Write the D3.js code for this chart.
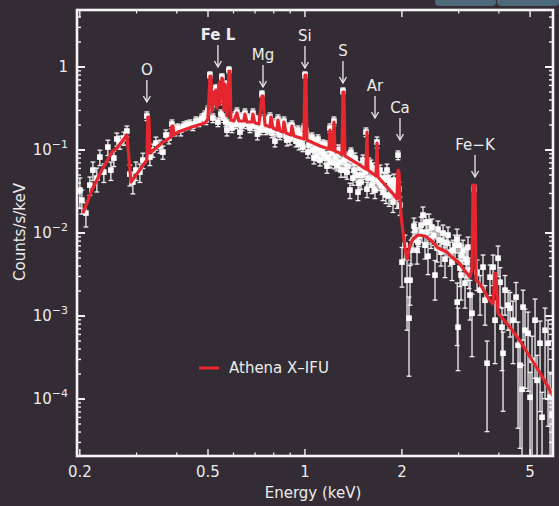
<!DOCTYPE html>
<html><head><meta charset="utf-8">
<script src="https://cdn.jsdelivr.net/npm/d3@7"></script>
<style>body{margin:0;background:#342c35;}svg{display:block;}</style>
</head><body>
<svg id="c" width="559" height="506"></svg>
<script>
// ---------------- data ----------------
const xDomain = [0.196, 5.89];          // keV
const yDomain = [2.06e-5, 4.86];        // counts/s/keV
const xTickValues = [0.2, 0.5, 1, 2, 5];
const xTickLabels = ["0.2", "0.5", "1", "2", "5"];
const yTickValues = [1, 0.1, 0.01, 0.001, 0.0001];
const yTickBase = ["1", "10", "10", "10", "10"];
const yTickExp = ["", "−1", "−2", "−3", "−4"];

// model (Athena X-IFU) curve
const modelEnergy = [
 0.2045,0.2181,0.2342,0.2516,0.2607,0.2801,0.2883,0.3230,0.3253,0.3277,0.3301,0.3596,0.3836,0.3864,0.3892,0.3920,0.4034,0.4457,0.4892,
 0.4997,0.5070,0.5106,0.5143,0.5217,0.5254,0.5292,0.5330,0.5406,0.5445,0.5524,0.5563,0.5603,0.5644,0.5725,0.5808,0.5849,0.5891,0.6018,
 0.6148,0.6237,0.6464,0.6510,0.6604,0.6844,0.6893,0.6992,0.7197,0.7355,0.7408,0.7515,0.7788,0.7844,0.7957,0.8186,0.8245,0.8364,0.8545,0.8606,0.8730,0.9049,0.9113,0.9243,0.9929,1.0000,1.0072,1.0144,
 1.1131,1.1871,1.1957,1.2043,1.2218,1.2306,1.2394,1.3027,1.3122,1.3216,1.3311,1.4300,1.5471,1.5582,1.5694,1.6615,1.6734,1.6854,1.8103,1.9033,1.9307,1.9446,1.9585,1.9868,
 2.0155,2.0447,2.0742,2.1191,2.1650,2.2442,2.3590,2.4793,2.5882,2.7606,2.8610,3.0298,3.1403,3.2546,3.3017,3.3255,3.3729,3.3972,3.4953,3.7548,3.8357,3.8912,3.9191,3.9755,4.1199,4.3313,4.6528,4.9980,5.3691,5.6443,5.8915];
const modelCounts = [
 0.0174,0.0330,0.0574,0.0946,0.1057,0.1517,0.0411,0.0758,0.2499,0.2499,0.0920,0.1214,0.1434,0.1946,0.1946,0.1517,0.1647,0.1893,0.2115,
 0.2363,0.779,0.779,0.2870,0.500,0.3583,0.5285,0.3206,0.6417,0.3583,0.7373,0.6971,0.3033,0.6239,0.2570,0.8951,0.8951,0.2298,0.2236,
 0.2790,0.2236,0.2236,0.2714,0.2174,0.2174,0.2714,0.2115,0.2057,0.4475,0.4475,0.2001,0.1893,0.2499,0.1841,0.1741,0.2298,0.1694,0.1647,0.2174,0.1602,0.1517,0.1946,0.1475,0.1358,0.8009,0.8009,0.1320,
 0.1117,0.1028,0.1741,0.1028,0.100,0.2174,0.0973,0.0895,0.500,0.500,0.0847,0.0717,0.0590,0.1647,0.0574,0.0486,0.1214,0.0473,0.0348,0.0279,0.0257,0.0574,0.0543,0.0165,
 0.01028,0.00659,0.00486,0.00717,0.00847,0.00946,0.00920,0.00801,0.00659,0.00590,0.00514,0.00423,0.00348,0.00295,0.00379,0.0379,0.0379,0.00271,0.00243,0.00152,0.00140,0.00330,0.00312,0.00109,0.000920,0.000736,0.000500,0.000321,0.000206,0.000147,0.000109];

// observed spectrum, by band: energy, counts, relative error
const softE = [0.2001,0.2030,0.2089,0.2149,0.2196,0.2259,0.2308,0.2375,0.2444,0.2497,0.2551,0.2606,0.2663,0.2740,0.2800,0.2860,0.2922,0.2986,0.3072,0.3139,0.3230,0.3300,0.3372,0.3445,0.3545,0.3622,0.3701,0.3781,0.3863,0.3947,0.4033,0.4119,0.4209,0.4300,0.4393,0.4488,0.4586,0.4686,0.4787,0.4891];
const softC = [0.0329,0.0249,0.0174,0.0378,0.0573,0.0459,0.0822,0.0542,0.1085,0.0573,0.0800,0.1356,0.1246,0.1394,0.1692,0.0513,0.0411,0.0573,0.0542,0.0756,0.2567,0.0822,0.0998,0.1212,0.1116,0.0944,0.1514,0.1394,0.2054,0.1739,0.1839,0.1739,0.1944,0.1998,0.2054,0.1944,0.2232,0.2172,0.2429,0.2639];
const softErr = [0.40,0.32,0.32,0.25,0.25,0.32,0.21,0.25,0.21,0.25,0.21,0.18,0.18,0.18,0.15,0.28,0.28,0.25,0.25,0.21,0.12,0.21,0.18,0.18,0.18,0.18,0.15,0.15,0.12,0.15,0.12,0.15,0.12,0.12,0.12,0.12,0.12,0.12,0.12,0.12];

const feLE = [0.4997,0.5069,0.5142,0.5216,0.5292,0.5368,0.5445,0.5523,0.5603,0.5643,0.5725,0.5808,0.5891,0.5976,0.6062,0.6150,0.6239,0.6283,0.6328,0.6419,0.6512,0.6606,0.6701,0.6798,0.6895,0.6995,0.7096,0.7120,0.7198,0.7353,0.7459,0.7567,0.7677,0.7786,0.7898,0.8012,0.8069,0.8128,0.8245,0.8363,0.8483,0.8606,0.8730,0.8856,0.8983,0.9112,0.9243,0.9377,0.9513,0.9649,0.9788];
const feLC = [0.3030,0.8013,0.3483,0.4996,0.5586,0.2172,0.4000,0.7582,0.2429,0.6240,0.1739,0.9202,0.2054,0.2429,0.2567,0.2867,0.2172,0.1645,0.2497,0.2295,0.2789,0.2054,0.2429,0.2172,0.2789,0.1944,0.2295,0.1557,0.1891,0.4727,0.2362,0.1739,0.2054,0.2497,0.1601,0.1944,0.1281,0.1739,0.2362,0.1514,0.1839,0.2232,0.1473,0.1692,0.1356,0.1998,0.1557,0.1281,0.1739,0.1394,0.1212];
const feLErr = [0.12,0.09,0.12,0.09,0.09,0.12,0.12,0.09,0.12,0.09,0.15,0.09,0.12,0.12,0.12,0.12,0.12,0.15,0.12,0.12,0.12,0.12,0.12,0.12,0.12,0.12,0.12,0.15,0.12,0.09,0.12,0.12,0.12,0.12,0.12,0.12,0.15,0.12,0.12,0.12,0.12,0.12,0.12,0.12,0.15,0.12,0.12,0.15,0.12,0.15,0.15];

const feLBandE = [0.4926,0.5179,0.5484,0.5684,0.5933,0.6106,0.6373,0.6559,0.6749,0.6945,0.7147,0.7301,0.7406,0.7622,0.7732,0.7955,0.8186,0.8305,0.8423,0.8667,0.8793,0.8920,0.9048,0.9178,0.9310,0.9445,0.9581,0.9718];
const feLBandC = [0.2295,0.2429,0.2712,0.2172,0.1839,0.2054,0.1944,0.2362,0.1839,0.2429,0.2172,0.1739,0.2054,0.2232,0.1789,0.2112,0.1891,0.1692,0.2054,0.1839,0.1317,0.1891,0.1645,0.1789,0.1473,0.1601,0.1179,0.1514];
const feLBandErr = [0.12,0.12,0.12,0.12,0.12,0.12,0.12,0.12,0.12,0.12,0.12,0.12,0.12,0.12,0.12,0.12,0.12,0.12,0.12,0.12,0.15,0.12,0.12,0.12,0.12,0.12,0.15,0.12];

const midE = [0.9929,1.0000,1.0072,1.0144,1.0292,1.0439,1.0589,1.0741,1.0897,1.0975,1.1054,1.1212,1.1373,1.1537,1.1621,1.1704,1.1873,1.1957,1.2129,1.2304,1.2392,1.2482,1.2662,1.2844,1.3029,1.3123,1.3311,1.3408,1.3602,1.3796,1.3895,1.3995,1.4196,1.4402,1.4610,1.4714,1.4819,1.5032,1.5141,1.5249,1.5470,1.5693,1.5918,1.6033,1.6147,1.6380,1.6736,1.6978,1.7098,1.7221,1.7469,1.7720,1.7977,1.8107,1.8237,1.8498,1.8765,1.9035,1.9172,1.9450,1.9727];
const midC = [0.1839,0.8013,0.1692,0.1473,0.1147,0.1317,0.1000,0.1246,0.0869,0.1356,0.1116,0.0944,0.1179,0.0800,0.1147,0.0640,0.1085,0.1839,0.0919,0.2232,0.0696,0.0822,0.1000,0.0715,0.1027,0.5136,0.0573,0.0800,0.0640,0.0329,0.0944,0.0756,0.0573,0.0696,0.0311,0.0399,0.0606,0.0499,0.0756,0.0640,0.1645,0.0459,0.0573,0.0658,0.0378,0.0513,0.1246,0.0411,0.0573,0.0447,0.0311,0.0434,0.0573,0.0459,0.0279,0.0368,0.0236,0.0329,0.0378,0.0869,0.0217];
const midErr = [0.12,0.09,0.12,0.12,0.15,0.12,0.15,0.12,0.15,0.12,0.12,0.15,0.12,0.15,0.12,0.18,0.12,0.12,0.15,0.12,0.15,0.15,0.15,0.15,0.12,0.09,0.18,0.15,0.15,0.21,0.12,0.15,0.18,0.15,0.21,0.18,0.18,0.18,0.15,0.18,0.12,0.18,0.18,0.15,0.21,0.18,0.15,0.21,0.15,0.18,0.21,0.21,0.18,0.18,0.25,0.21,0.25,0.21,0.18,0.12,0.25];

const midBandE = [0.9858,1.0218,1.0513,1.0665,1.0819,1.1132,1.1292,1.1455,1.1789,1.2043,1.2216,1.2572,1.2753,1.2937,1.3216,1.3504,1.3700,1.4095,1.4298,1.4505,1.4926,1.5358,1.5581,1.5806,1.6263,1.6497,1.6617,1.6857,1.7344,1.7594,1.7849,1.8366,1.8631,1.8899,1.9310,1.9589];
const midBandC = [0.1085,0.0944,0.1433,0.0800,0.1027,0.0756,0.1028,0.0893,0.0822,0.0715,0.1085,0.0658,0.0944,0.0573,0.0756,0.0542,0.0845,0.0459,0.0800,0.0499,0.0411,0.0542,0.0338,0.0696,0.0434,0.0329,0.0606,0.0447,0.0368,0.0459,0.0287,0.0411,0.0311,0.0434,0.0264,0.0338];
const midBandErr = [0.12,0.15,0.12,0.15,0.12,0.15,0.12,0.15,0.15,0.15,0.12,0.15,0.12,0.18,0.15,0.18,0.12,0.18,0.15,0.18,0.18,0.18,0.21,0.15,0.18,0.21,0.15,0.18,0.21,0.18,0.21,0.21,0.21,0.18,0.25,0.21];

const hardE = [2.0011,2.0445,2.0741,2.1041,2.1190,2.1650,2.1961,2.2279,2.2601,2.2925,2.3255,2.3589,2.3931,2.4277,2.4624,2.4800,2.5338,2.5705,2.6261,2.6831,2.7217,2.7611,2.8208,2.8614,2.9235,2.9658,2.9700,2.9872,3.0299,3.0735,3.0956,3.1402,3.1856,3.2087,3.2545,3.3014,3.3489];
const hardC = [0.00446,0.00714,0.00270,0.000942,0.00270,0.00820,0.01083,0.00621,0.00917,0.01245,0.01646,0.00714,0.01025,0.01353,0.00868,0.01178,0.00311,0.00657,0.00820,0.00997,0.00484,0.00755,0.00588,0.00446,0.00714,0.00844,0.00147,0.000733,0.00378,0.00541,0.00621,0.00249,0.00446,0.00676,0.00179,0.00108,0.0338];
const hardErr = [0.5,0.32,0.75,0.8,0.5,0.25,0.25,0.32,0.25,0.25,0.25,0.32,0.25,0.25,0.25,0.25,0.5,0.32,0.25,0.25,0.4,0.32,0.32,0.4,0.32,0.32,0.7,0.7,0.4,0.32,0.32,0.5,0.4,0.32,0.5,0.7,0.12];

const edgeE = [2.1343,2.1805,2.2440,2.3089,2.3760,2.4104,2.5157,2.5890,2.6450,2.7023,2.7810,2.8820,3.0087,3.0517,3.1629,3.2317];
const edgeC = [0.00621,0.01211,0.00776,0.01025,0.01353,0.00526,0.00943,0.01115,0.00588,0.00776,0.00943,0.00621,0.00714,0.00311,0.00484,0.00357];
const edgeErr = [0.32,0.25,0.25,0.25,0.25,0.4,0.25,0.25,0.32,0.25,0.25,0.32,0.32,0.5,0.4,0.4];

const feKE = [3.4218,3.4958,3.5716,3.6231,3.6755,3.7549,3.8364,3.8916,3.9764,4.0333,4.0914,4.1208,4.1801,4.2713,4.3323,4.4263,4.5225,4.5879,4.6535,4.7205,4.7546,4.8229,4.9280,4.9985,5.0705,5.1804,5.2554,5.3691,5.4464,5.5645,5.6859,5.7671,5.8501];
const feKC = [0.00338,0.00205,0.00388,0.00155,0.000270,0.00294,0.00388,0.000890,0.00498,0.00255,0.000733,0.000356,0.00205,0.00135,0.00124,0.000890,0.00169,0.000445,0.000255,0.000131,0.00128,0.000674,0.000620,0.000105,0.000293,0.000890,0.000168,0.000470,0.0000603,0.000674,0.000470,0.000105,0.0000655];
const feKErr = [0.4,0.5,0.4,0.5,0.85,0.4,0.4,0.7,0.4,0.5,0.7,0.8,0.5,0.5,0.55,0.7,0.5,0.9,0.9,0.95,0.6,0.8,0.8,1.0,0.95,0.8,1.0,0.85,1.0,0.85,0.9,1.0,1.0];

// line identifications
const lineNames = ["O", "Fe L", "Mg", "Si", "S", "Ar", "Ca", "Fe−K"];
const lineEnergy = [0.3230, 0.5368, 0.7408, 1.0, 1.3122, 1.650, 1.9727, 3.3729];
const lineTipCounts = [0.3787, 1.0, 0.5743, 0.9726, 0.6414, 0.2429, 0.1320, 0.0473];
const legendLabel = "Athena X–IFU";

// ---------------- drawing ----------------
const svg = d3.select("#c");
const P = {l:77, r:553, t:10, b:456};
const FG = "#ececec", RED = "#e5262e", BG = "#342c35";
const FONT = "DejaVu Sans, sans-serif";

svg.append("rect").attr("width",559).attr("height",506).attr("fill",BG);
// top-right window decoration
svg.append("rect").attr("x",435).attr("y",-6).attr("width",61).attr("height",12).attr("rx",4).attr("fill","#4b6978");
svg.append("rect").attr("x",497).attr("y",-6).attr("width",62).attr("height",12).attr("rx",4).attr("fill","#4b6978");

const x = d3.scaleLog().domain(xDomain).range([P.l, P.r]);
const y = d3.scaleLog().domain(yDomain).range([P.b, P.t]);

svg.append("clipPath").attr("id","clip").append("rect")
  .attr("x",P.l).attr("y",P.t).attr("width",P.r-P.l).attr("height",P.b-P.t);

// data points
const pts = [];
[[softE,softC,softErr],[feLE,feLC,feLErr],[feLBandE,feLBandC,feLBandErr],[midE,midC,midErr],
 [midBandE,midBandC,midBandErr],[hardE,hardC,hardErr],[edgeE,edgeC,edgeErr],[feKE,feKC,feKErr]]
  .forEach(([E,C,R]) => E.forEach((e,i) => pts.push({e, c:C[i], r:R[i]})));

const gd = svg.append("g").attr("clip-path","url(#clip)");
const EB = "#f2f2f2";
pts.forEach(p => {
  const px = x(p.e);
  const hi = p.c*(1+p.r);
  const loV = p.c*(1-p.r);
  const yHi = y(hi);
  const yLo = loV > yDomain[0] ? y(loV) : P.b + 2;
  gd.append("line").attr("x1",px).attr("x2",px).attr("y1",yHi).attr("y2",yLo)
    .attr("stroke",EB).attr("stroke-width",1.3);
  gd.append("line").attr("x1",px-2.4).attr("x2",px+2.4).attr("y1",yHi).attr("y2",yHi)
    .attr("stroke",EB).attr("stroke-width",1.3);
  if (loV > yDomain[0]) gd.append("line").attr("x1",px-2.4).attr("x2",px+2.4).attr("y1",yLo).attr("y2",yLo)
    .attr("stroke",EB).attr("stroke-width",1.3);
  gd.append("rect").attr("x",px-2.8).attr("y",y(p.c)-2.8).attr("width",5.6).attr("height",5.6).attr("fill","#ffffff");
});

// model line
const model = modelEnergy.map((e,i)=>[e, modelCounts[i]]);
svg.append("path").attr("clip-path","url(#clip)")
  .datum(model)
  .attr("d", d3.line().x(d=>x(d[0])).y(d=>y(d[1])))
  .attr("fill","none").attr("stroke",RED).attr("stroke-width",3.2).attr("stroke-linejoin","round");

// frame
svg.append("rect").attr("x",P.l).attr("y",P.t).attr("width",P.r-P.l).attr("height",P.b-P.t)
  .attr("fill","none").attr("stroke","#f4f4f4").attr("stroke-width",2.6);

// ticks
const tg = svg.append("g").attr("stroke","#f4f4f4");
const xMinor = [];
[0.1,1].forEach(d=>{for(let k=2;k<=9;k++){const v=d*k; if(v>xDomain[0]&&v<xDomain[1]&&!xTickValues.includes(+v.toFixed(3))) xMinor.push(v);}});
xTickValues.forEach(v=>{const px=x(v);
  tg.append("line").attr("x1",px).attr("x2",px).attr("y1",P.b).attr("y2",P.b-7).attr("stroke-width",1.4);
  tg.append("line").attr("x1",px).attr("x2",px).attr("y1",P.t).attr("y2",P.t+7).attr("stroke-width",1.4);});
xMinor.forEach(v=>{const px=x(v);
  tg.append("line").attr("x1",px).attr("x2",px).attr("y1",P.b).attr("y2",P.b-3.5).attr("stroke-width",1.2);
  tg.append("line").attr("x1",px).attr("x2",px).attr("y1",P.t).attr("y2",P.t+3.5).attr("stroke-width",1.2);});
const yMinor = [];
[1e-5,1e-4,1e-3,1e-2,1e-1,1].forEach(d=>{for(let k=2;k<=9;k++){const v=d*k; if(v>yDomain[0]&&v<yDomain[1]) yMinor.push(v);}});
yTickValues.forEach(v=>{const py=y(v);
  tg.append("line").attr("x1",P.l).attr("x2",P.l+8).attr("y1",py).attr("y2",py).attr("stroke-width",2);
  tg.append("line").attr("x1",P.r).attr("x2",P.r-8).attr("y1",py).attr("y2",py).attr("stroke-width",2);});
yMinor.forEach(v=>{const py=y(v);
  tg.append("line").attr("x1",P.l).attr("x2",P.l+4).attr("y1",py).attr("y2",py).attr("stroke-width",1.4);
  tg.append("line").attr("x1",P.r).attr("x2",P.r-4).attr("y1",py).attr("y2",py).attr("stroke-width",1.4);});

// tick labels
xTickValues.forEach((v,i)=>{
  svg.append("text").attr("x",x(v)).attr("y",477).attr("text-anchor","middle")
    .attr("font-family",FONT).attr("font-size",15).attr("fill",FG).text(xTickLabels[i]);});
yTickValues.forEach((v,i)=>{
  const t = svg.append("text").attr("x",68).attr("y",y(v)+5).attr("text-anchor","end")
    .attr("font-family",FONT).attr("font-size",15).attr("fill",FG);
  t.append("tspan").text(yTickBase[i]);
  if (yTickExp[i]) t.append("tspan").attr("dy",-7).attr("font-size",11).text(yTickExp[i]);
});

// axis titles
svg.append("text").attr("x",313).attr("y",498).attr("text-anchor","middle")
  .attr("font-family",FONT).attr("font-size",15).attr("fill",FG).text("Energy (keV)");
svg.append("text").attr("transform","translate(25,232) rotate(-90)").attr("text-anchor","middle")
  .attr("font-family",FONT).attr("font-size",15).attr("fill",FG).text("Counts/s/keV");

// line labels & arrows
lineNames.forEach((n,i)=>{
  const px = x(lineEnergy[i]), tip = y(lineTipCounts[i]);
  svg.append("line").attr("x1",px).attr("x2",px).attr("y1",tip-22).attr("y2",tip-0.5)
    .attr("stroke",FG).attr("stroke-width",1.3);
  svg.append("path").attr("d",`M${px-3.5},${tip-6}L${px},${tip}L${px+3.5},${tip-6}`)
    .attr("fill","none").attr("stroke",FG).attr("stroke-width",1.3);
  svg.append("text").attr("x",px).attr("y",tip-27).attr("text-anchor","middle")
    .attr("font-family",FONT).attr("font-size",15).attr("font-weight", n==="Fe L"?"bold":"normal")
    .attr("fill",FG).text(n);
});

// legend
svg.append("line").attr("x1",199).attr("x2",219).attr("y1",368).attr("y2",368)
  .attr("stroke",RED).attr("stroke-width",3);
svg.append("text").attr("x",229).attr("y",373).attr("font-family",FONT).attr("font-size",15)
  .attr("fill",FG).text(legendLabel);
</script>
</body></html>
